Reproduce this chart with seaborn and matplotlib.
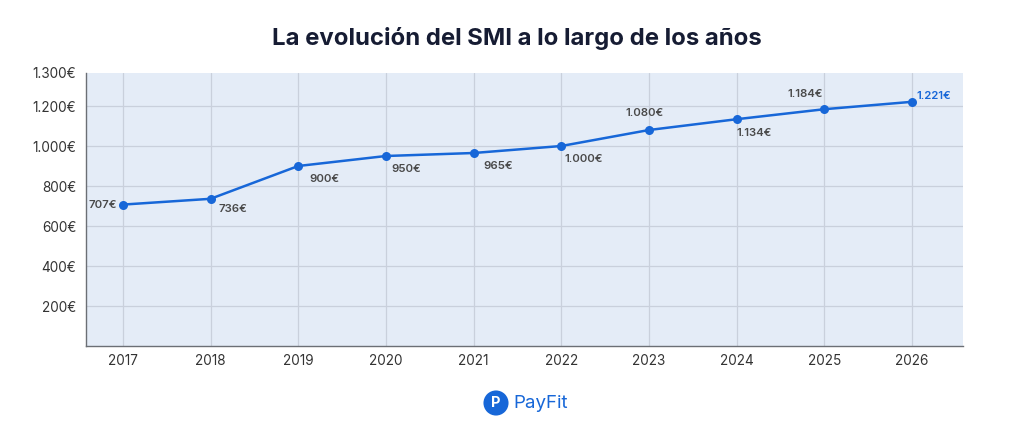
import matplotlib
matplotlib.use("Agg")
import matplotlib.pyplot as plt
import seaborn as sns
import pandas as pd

years = [2017, 2018, 2019, 2020, 2021, 2022, 2023, 2024, 2025, 2026]
smi = [707, 736, 900, 950, 965, 1000, 1080, 1134, 1184, 1221]
labels = ["707€", "736€", "900€", "950€", "965€", "1.000€", "1.080€", "1.134€", "1.184€", "1.221€"]
ytick_vals = [200, 400, 600, 800, 1000, 1200]
ytick_labels = ["200€", "400€", "600€", "800€", "1.000€", "1.200€"]

# label placement (offset in pixels, alignment)
label_pos = [
    ((-6, 0), "right", "center"),
    ((8, -10), "left", "center"),
    ((11, -13), "left", "center"),
    ((5, -13), "left", "center"),
    ((10, -13), "left", "center"),
    ((3, -13), "left", "center"),
    ((-4, 17), "center", "center"),
    ((0, -14), "left", "center"),
    ((-1, 15), "right", "center"),
    ((4, 6), "left", "center"),
]

sns.set_style("white")
plt.rcParams["font.family"] = ["Inter", "DejaVu Sans"]

df = pd.DataFrame({"year": years, "smi": smi})

fig = plt.figure(figsize=(10.34, 4.3), dpi=100)
ax = fig.add_axes([86 / 1034, 1 - 346 / 430, (963 - 86) / 1034, (346 - 73) / 430])
ax.set_facecolor("#e4ecf7")

blue = "#1767d8"
sns.lineplot(data=df, x="year", y="smi", ax=ax, color=blue, linewidth=1.8,
             marker="o", markersize=6.5, markeredgewidth=0, zorder=3)

for x, y, lab, (off, ha, va) in zip(years, smi, labels, label_pos):
    col = blue if x == years[-1] else "#4a4a4a"
    ax.annotate(lab, (x, y), xytext=off, textcoords="offset pixels",
                ha=ha, va=va, fontsize=8.2, color=col, fontweight="semibold")

top = 1365
ax.set_xlim(2016.58, 2026.58)
ax.set_ylim(0, top)
ax.set_xticks(years)
ax.set_xticklabels([str(y) for y in years])
ax.set_yticks(ytick_vals + [top])
ax.set_yticklabels(ytick_labels + ["1.300€"])
ax.grid(True, color="#c9d0dc", linewidth=0.9)
ax.yaxis.get_gridlines()[-1].set_visible(False)
ax.set_axisbelow(True)
ax.tick_params(axis="both", length=0, labelsize=9.8, labelcolor="#333333")
ax.tick_params(axis="y", pad=7)
ax.tick_params(axis="x", pad=6)
ax.set_xlabel("")
ax.set_ylabel("")
for s in ["top", "right"]:
    ax.spines[s].set_visible(False)
for s in ["left", "bottom"]:
    ax.spines[s].set_color("#6b6f75")
    ax.spines[s].set_linewidth(1.0)

fig.text(0.5, 1 - 38 / 430, "La evolución del SMI a lo largo de los años",
         ha="center", va="center", fontsize=17.2, fontweight="bold", color="#161c33")

# PayFit footer
fig.text(496 / 1034, 1 - 403 / 430, "P", ha="center", va="center", fontsize=10.5,
         fontweight="bold", color="white",
         bbox=dict(boxstyle="circle,pad=0.38", fc="#1767d8", ec="none"))
fig.text(513 / 1034, 1 - 403 / 430, "PayFit", ha="left", va="center",
         fontsize=13.5, color="#1767d8")

fig.savefig("out.png", dpi=100)
